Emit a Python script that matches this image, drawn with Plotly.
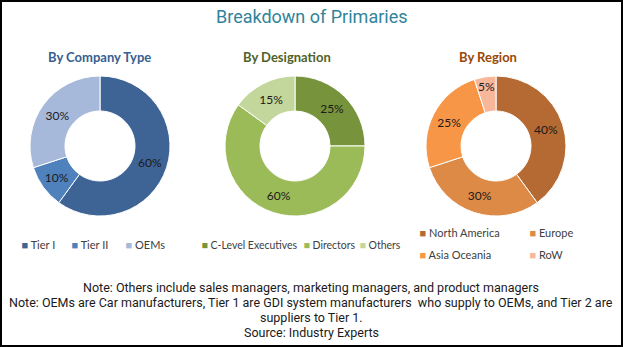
import plotly.graph_objects as go

# ---------------- data ----------------
company_labels = ["Tier I", "Tier II", "OEMs"]
company_values = [60, 10, 30]
company_colors = ["#3E6496", "#4F81BD", "#A7B9DB"]

designation_labels = ["C-Level Executives", "Directors", "Others"]
designation_values = [25, 60, 15]
designation_colors = ["#77933C", "#9BBB59", "#C3D69B"]

region_labels = ["North America", "Europe", "Asia Oceania", "RoW"]
region_values = [40, 30, 25, 5]
region_colors = ["#B46A32", "#DD8A47", "#F79646", "#F8B69A"]

title_text = "Breakdown of Primaries"
subtitles = ["By Company Type", "By Designation", "By Region"]
subtitle_colors = ["#376092", "#4F6228", "#984807"]
notes = [
    "Note: Others include sales managers, marketing managers, and product managers",
    "Note: OEMs are Car manufacturers, Tier 1 are GDI system manufacturers  who supply to OEMs, and Tier 2 are",
    "suppliers to Tier 1.",
    "Source: Industry Experts",
]

# ---------------- layout helpers ----------------
W, H = 623, 347


def px(x):
    return x / W


def py(y):
    return 1 - y / H


pie_cx = [100, 295, 496]
pie_cy = 146
pie_r = 70
LABEL_FONT = "Lato"

fig = go.Figure()

pies = [
    (company_labels, company_values, company_colors),
    (designation_labels, designation_values, designation_colors),
    (region_labels, region_values, region_colors),
]
for (labels, values, colors), cx in zip(pies, pie_cx):
    fig.add_trace(go.Pie(
        labels=labels, values=values,
        marker=dict(colors=colors, line=dict(color="white", width=1)),
        hole=0.5, sort=False, direction="clockwise", rotation=0,
        texttemplate="%{percent:.0%}", textposition="inside",
        insidetextorientation="horizontal",
        textfont=dict(family=LABEL_FONT, size=12, color="#1a1a1a"),
        showlegend=False, hoverinfo="label+percent",
        domain=dict(x=[px(cx - pie_r), px(cx + pie_r)],
                    y=[py(pie_cy + pie_r), py(pie_cy - pie_r)]),
    ))

# legend entries (one legend per row)
legend_groups = [
    ("legend", company_labels, company_colors, [5, 9, 80]),
    ("legend2", designation_labels, designation_colors, [57, 11, 80]),
    ("legend3", region_labels[:2], region_colors[:2], [65, 80]),
    ("legend4", region_labels[2:], region_colors[2:], [65, 80]),
]
for lg, labels, colors, widths in legend_groups:
    for lab, col, lw in zip(labels, colors, widths):
        fig.add_trace(go.Scatter(
            x=[None], y=[None], mode="markers",
            marker=dict(color="rgba(0,0,0,0)", size=1, opacity=0),
            name=f"<span style='color:{col}'>■</span> {lab}",
            legend=lg, legendwidth=lw, hoverinfo="skip", showlegend=True,
        ))


def leg(x, y, size=11):
    return dict(orientation="h", xanchor="left", yanchor="middle",
                x=x, y=y, bgcolor="rgba(0,0,0,0)", borderwidth=0,
                itemwidth=30, entrywidthmode="pixels",
                font=dict(family=LABEL_FONT, size=size, color="#404040"))


fig.update_layout(
    legend=leg(px(21.5 - 40), py(245)),
    legend2=leg(px(201.5 - 40), py(245), 10.5),
    legend3=leg(px(419.5 - 40), py(233)),
    legend4=leg(px(419.5 - 40), py(255)),
)

annotations = [
    dict(text=title_text, x=px(312), y=py(17), xref="paper", yref="paper",
         showarrow=False, xanchor="center", yanchor="middle",
         font=dict(family="Roboto", size=18, color="#31849B")),
]
for txt, col, cx in zip(subtitles, subtitle_colors, [99, 287, 488]):
    annotations.append(dict(text=f"<b>{txt}</b>", x=px(cx), y=py(57),
                            xref="paper", yref="paper", showarrow=False,
                            xanchor="center", yanchor="middle",
                            font=dict(family=LABEL_FONT, size=13, color=col)))
for i, line in enumerate(notes):
    annotations.append(dict(text=line, x=px(311), y=py(287 + 15 * i),
                            xref="paper", yref="paper", showarrow=False,
                            xanchor="center", yanchor="middle",
                            font=dict(family="Roboto", size=12.5,
                                      color="#1a1a1a")))

fig.update_layout(
    width=W, height=H,
    margin=dict(l=0, r=0, t=0, b=0, pad=0, autoexpand=False),
    paper_bgcolor="white", plot_bgcolor="white",
    xaxis=dict(visible=False), yaxis=dict(visible=False),
    annotations=annotations,
    uniformtext=dict(minsize=12, mode="show"),
    shapes=[dict(type="rect", xref="paper", yref="paper",
                 x0=px(1), x1=px(622), y0=py(346), y1=py(1),
                 line=dict(color="black", width=2), layer="above")],
)

fig.write_html("out.html")
